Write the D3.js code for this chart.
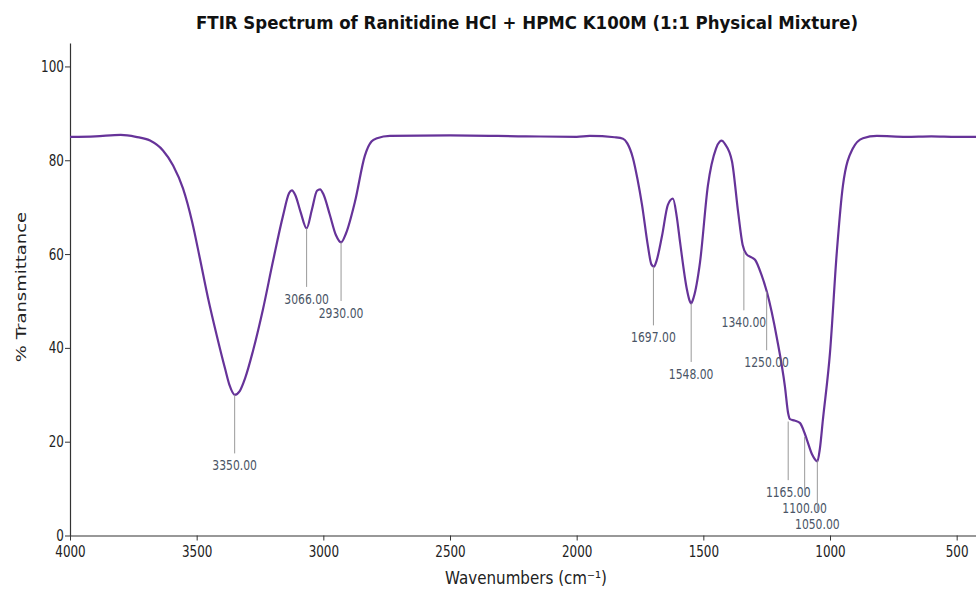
<!DOCTYPE html>
<html lang="en">
<head>
<meta charset="UTF-8">
<style>
  body { margin: 0; background: #fff; }
  svg text { font-family: "DejaVu Sans", sans-serif; }
</style>
</head>
<body>
<svg width="976" height="589"></svg>
<script src="https://d3js.org/d3.v7.min.js"></script>
<script>
// spectrum (wavenumber, % transmittance)
var wavenumbers = [4000, 3900, 3800, 3740, 3684, 3633, 3593, 3554, 3518, 3487, 3455, 3420, 3388, 3370, 3350, 3330, 3309, 3278, 3238, 3199, 3159, 3135, 3124, 3110, 3090, 3066, 3045, 3025, 3013, 3000, 2975, 2950, 2930, 2910, 2875, 2836, 2810, 2788, 2737, 2500, 2200, 2000, 1948, 1850, 1817, 1800, 1778, 1760, 1742, 1719, 1705, 1695, 1685, 1663, 1640, 1620, 1605, 1592, 1565, 1555, 1548, 1538, 1513, 1482, 1450, 1435, 1427, 1415, 1387, 1363, 1345, 1330, 1310, 1296, 1270, 1249, 1209, 1178, 1165, 1158, 1140, 1119, 1100, 1091, 1070, 1059, 1050, 1040, 1028, 1000, 973, 949, 910, 870, 815, 700, 600, 500, 400];
var transmittance = [85.0, 85.1, 85.4, 85.0, 84.2, 82.1, 78.9, 74.0, 66.9, 59.0, 50.6, 42.5, 35.6, 32.0, 30.0, 30.8, 33.5, 39.3, 48.3, 58.4, 68.2, 73.0, 73.6, 72.5, 69.0, 65.5, 69.5, 73.5, 73.8, 72.8, 68.5, 64.0, 62.5, 64.5, 71.2, 81.0, 84.0, 84.7, 85.2, 85.3, 85.1, 85.0, 85.2, 84.9, 84.6, 83.6, 80.5, 76.0, 70.5, 61.8, 57.8, 57.3, 58.5, 63.9, 70.5, 71.8, 68.0, 62.6, 52.5, 50.2, 49.5, 50.8, 58.3, 74.6, 82.5, 84.0, 84.2, 83.5, 79.8, 69.1, 62.0, 60.0, 59.3, 58.8, 55.5, 51.9, 41.9, 31.8, 26.0, 24.8, 24.5, 24.0, 21.8, 20.4, 17.2, 16.2, 15.8, 18.5, 24.7, 39.0, 60.5, 74.6, 82.5, 84.7, 85.2, 85.0, 85.1, 85.0, 85.0];

// labelled peaks
var peakWn = [3350, 3066, 2930, 1697, 1548, 1340, 1250, 1165, 1100, 1050];
var peakT = [30.0, 65.5, 62.5, 57.3, 49.5, 60.5, 52.0, 24.3, 21.0, 16.0];

var xTicks = [4000, 3500, 3000, 2500, 2000, 1500, 1000, 500];
var yTicks = [0, 20, 40, 60, 80, 100];

var titleText = "FTIR Spectrum of Ranitidine HCl + HPMC K100M (1:1 Physical Mixture)";
var xLabel = "Wavenumbers (cm\u207B\u00B9)";
var yLabel = "% Transmittance";

var sx = 0.77; // picture is squeezed horizontally

var svg = d3.select("svg");

var x = d3.scaleLinear().domain([4000, 400]).range([70, 982]);
var y = d3.scaleLinear().domain([0, 105]).range([535.5, 43]);

var data = wavenumbers.map(function(w, i) { return {w: w, t: transmittance[i]}; });

// axes
var xAxis = svg.append("g")
    .attr("transform", "translate(0," + y(0) + ")")
    .call(d3.axisBottom(x).tickValues(xTicks).tickFormat(d3.format("d")).tickSize(5).tickPadding(6).tickSizeOuter(0));
var yAxis = svg.append("g")
    .attr("transform", "translate(" + x(4000) + ",0)")
    .call(d3.axisLeft(y).tickValues(yTicks).tickSize(5).tickPadding(3).tickSizeOuter(0));

[xAxis, yAxis].forEach(function(g) {
  g.select(".domain").attr("stroke", "#333").attr("stroke-width", 1.2);
  g.selectAll(".tick line").attr("stroke", "#333").attr("stroke-width", 1);
  g.selectAll(".tick text").attr("fill", "#222").style("font-size", "15.5px")
      .attr("transform", "scale(" + sx + ",1)");
});

// spectrum
var line = d3.line()
    .x(function(d) { return x(d.w); })
    .y(function(d) { return y(d.t); })
    .curve(d3.curveMonotoneX);

svg.append("path")
    .datum(data)
    .attr("fill", "none")
    .attr("stroke", "#663399")
    .attr("stroke-width", 2.2)
    .attr("stroke-linejoin", "round")
    .attr("d", line);

// peak annotations
var ann = svg.append("g");
peakWn.forEach(function(w, i) {
  var t0 = peakT[i];
  var t1 = Math.max(t0 - 12.5, 5);
  ann.append("line")
      .attr("x1", x(w)).attr("x2", x(w))
      .attr("y1", y(t0)).attr("y2", y(t1))
      .attr("stroke", "#999").attr("stroke-width", 1);
  ann.append("text")
      .attr("transform", "translate(" + x(w) + "," + (y(t1) + 17) + ") scale(0.8,1)")
      .attr("text-anchor", "middle")
      .attr("fill", "#4a5566")
      .style("font-size", "13.5px")
      .text(d3.format(".2f")(w));
});

// title and axis labels
svg.append("text")
    .attr("x", 527).attr("y", 29)
    .attr("text-anchor", "middle")
    .attr("textLength", 662)
    .attr("lengthAdjust", "spacingAndGlyphs")
    .style("font-size", "18px")
    .style("font-weight", "bold")
    .attr("fill", "#111")
    .text(titleText);

svg.append("text")
    .attr("x", 526).attr("y", 584)
    .attr("text-anchor", "middle")
    .attr("textLength", 162)
    .attr("lengthAdjust", "spacingAndGlyphs")
    .style("font-size", "17px")
    .attr("fill", "#222")
    .text(xLabel);

svg.append("text")
    .attr("transform", "translate(26,287) rotate(-90) scale(1," + sx + ")")
    .attr("text-anchor", "middle")
    .style("font-size", "18px")
    .attr("fill", "#222")
    .text(yLabel);
</script>
</body>
</html>
